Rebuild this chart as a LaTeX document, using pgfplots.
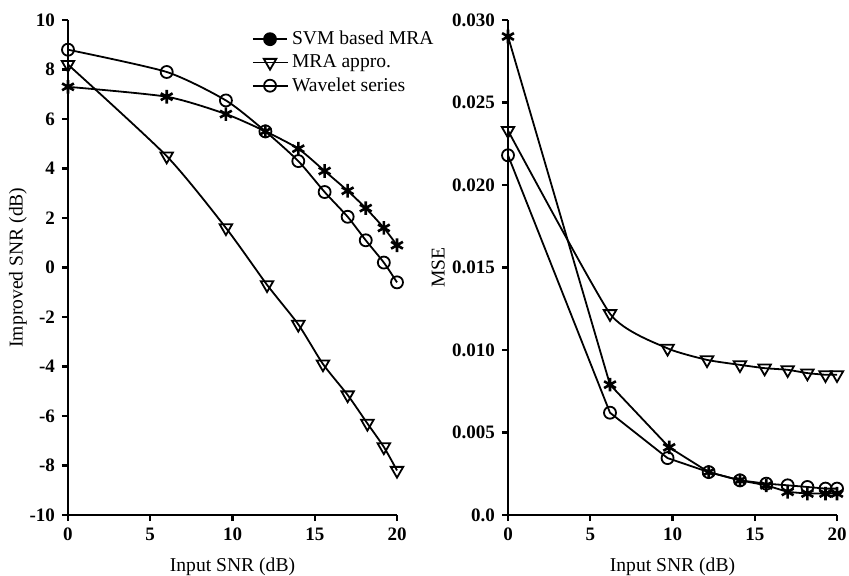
\documentclass[border=0pt]{standalone}
\usepackage{fontspec}
\setmainfont{Liberation Serif}
\usepackage{pgfplots}
\pgfplotsset{compat=1.18}

\pgfplotsset{
  panel/.style={
    scale only axis,
    width=164.5pt, height=247.5pt,
    axis lines*=left,
    axis line style={-, line width=1.1pt},
    tick align=outside,
    major tick length=3pt,
    tick style={line width=1.1pt, black},
    xmin=0, xmax=20,
    xtick={0,5,10,15,20},
    xticklabels={0,5,10,15,20},
    scaled y ticks=false,
    font=\fontsize{9.8}{11}\selectfont,
    ticklabel style={font=\fontsize{9.5}{11}\selectfont\bfseries},
    clip=false,
    xlabel={Input SNR (dB)},
    xlabel style={at={(axis description cs:0.5,-0.105)}, anchor=center},
    every axis plot/.append style={black, line width=0.9pt},
  },
  svm/.style={mark=asterisk, mark size=3.4pt, mark options={line width=1.3pt}},
  mra/.style={mark=triangle, mark size=3.6pt, mark options={rotate=180, fill=white, line width=0.9pt}},
  wav/.style={mark=o, mark size=3pt, mark options={fill=white, line width=0.9pt}},
}

\begin{document}
\begin{tikzpicture}
\useasboundingbox (-34pt,-30pt) rectangle (390.5pt,257.5pt);

% left panel: improved SNR
\begin{axis}[panel,
  at={(0pt,0pt)},
  ymin=-10, ymax=10,
  ytick={-10,-8,-6,-4,-2,0,2,4,6,8,10},
  yticklabels={-10,-8,-6,-4,-2,0,2,4,6,8,10},
  ylabel={Improved SNR (dB)},
  ylabel style={at={(axis description cs:-0.152,0.5)}, anchor=center},
  legend style={draw=none, fill=none, at={(axis description cs:0.54,0.995)}, anchor=north west,
    font=\fontsize{9.8}{11}\selectfont, row sep=-0.5pt},
  legend cell align=left,
]
\addlegendimage{black, line width=0.9pt, mark=*, mark size=3pt}
\addlegendentry{SVM based MRA}
\addplot[svm, smooth, tension=0.4, forget plot] coordinates {
  (0,7.3) (6,6.9) (9.6,6.2) (12,5.5) (14,4.8) (15.6,3.9) (17,3.1) (18.1,2.4) (19.2,1.6) (20,0.9)};
\addplot[mra, smooth, tension=0.4] coordinates {
  (0,8.2) (6,4.5) (9.6,1.6) (12.1,-0.7) (14,-2.3) (15.5,-3.9) (17,-5.15) (18.2,-6.3) (19.2,-7.25) (20,-8.2)};
\addlegendentry{MRA appro.}
\addplot[wav, smooth, tension=0.4] coordinates {
  (0,8.8) (6,7.9) (9.6,6.75) (12,5.5) (14,4.3) (15.6,3.05) (17,2.05) (18.1,1.1) (19.2,0.2) (20,-0.6)};
\addlegendentry{Wavelet series}
\end{axis}

% right panel: MSE
\begin{axis}[panel,
  at={(220pt,0pt)},
  ymin=0, ymax=0.030,
  ytick={0,0.005,0.010,0.015,0.020,0.025,0.030},
  yticklabels={0.0,0.005,0.010,0.015,0.020,0.025,0.030},
  ylabel={MSE},
  ylabel style={at={(axis description cs:-0.212,0.5)}, anchor=center},
]
\addplot[svm] coordinates {
  (0,0.0290) (6.2,0.0079) (9.8,0.0041) (12.2,0.0026) (14.1,0.0021) (15.7,0.0018) (17,0.0014) (18.2,0.0013) (19.3,0.0013) (20,0.0013)};
\addplot[mra, smooth, tension=0.3] coordinates {
  (0,0.0233) (6.2,0.0122) (9.7,0.0101) (12.1,0.0094) (14.1,0.0091) (15.6,0.0089) (17,0.0088) (18.2,0.0086) (19.3,0.0085) (20,0.0085)};
\addplot[wav] coordinates {
  (0,0.0218) (6.2,0.0062) (9.7,0.00345) (12.2,0.0026) (14.1,0.0021) (15.7,0.0019) (17,0.0018) (18.2,0.0017) (19.3,0.0016) (20,0.0016)};
\end{axis}
\end{tikzpicture}
\end{document}
